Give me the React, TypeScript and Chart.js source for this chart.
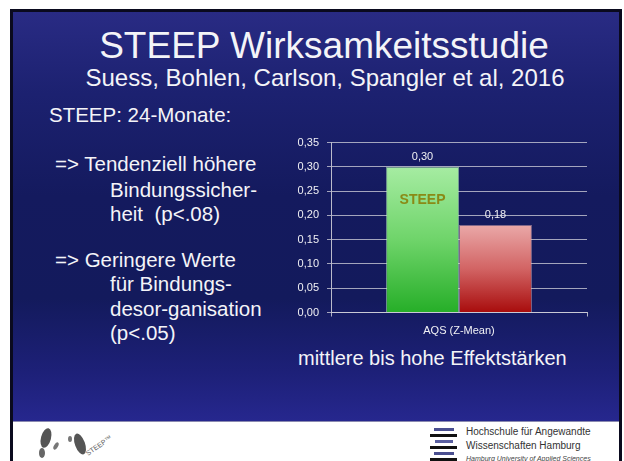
import React, { useEffect, useRef } from "react";
import { Chart, registerables } from "chart.js";

Chart.register(...registerables);

const categories = ["AQS (Z-Mean)"];
const seriesNames = ["STEEP", "Kontrollgruppe"];
const steepValues = [0.3];
const controlValues = [0.18];
const yTicks = [0, 0.05, 0.1, 0.15, 0.2, 0.25, 0.3, 0.35];
const barInsideLabel = "STEEP";

const fmt = (v: number) => v.toFixed(2).replace(".", ",");

function gradientFor(ctx: any, top: string, mid: string, bottom: string) {
  const chart = ctx.chart;
  const area = chart.chartArea;
  if (!area) return bottom;
  const v = ctx.raw as number;
  const y0 = chart.scales.y.getPixelForValue(v);
  const y1 = chart.scales.y.getPixelForValue(0);
  const g = chart.ctx.createLinearGradient(0, y0, 0, y1);
  g.addColorStop(0, top);
  g.addColorStop(0.5, mid);
  g.addColorStop(1, bottom);
  return g;
}

const labelPlugin = {
  id: "valueLabels",
  afterDatasetsDraw(chart: any) {
    const c = chart.ctx;
    c.save();
    chart.data.datasets.forEach((ds: any, di: number) => {
      const meta = chart.getDatasetMeta(di);
      meta.data.forEach((bar: any, i: number) => {
        const v = ds.data[i] as number;
        c.font = "11px Arial, 'Liberation Sans', sans-serif";
        c.fillStyle = "#f0f0f4";
        c.textAlign = "center";
        c.textBaseline = "middle";
        c.fillText(fmt(v), bar.x, bar.y - 10);
        if (di === 0) {
          c.font = "bold 14px Arial, 'Liberation Sans', sans-serif";
          c.fillStyle = "#8a8a16";
          c.fillText(barInsideLabel, bar.x, bar.y + 33);
        }
      });
    });
    c.restore();
  },
};

function BarChart() {
  const ref = useRef<HTMLCanvasElement | null>(null);
  useEffect(() => {
    if (!ref.current) return;
    const chart = new Chart(ref.current, {
      type: "bar",
      data: {
        labels: categories,
        datasets: [
          {
            label: seriesNames[0],
            data: steepValues,
            backgroundColor: (ctx: any) => gradientFor(ctx, "#a6eca2", "#6fd46a", "#26ae28"),
            borderColor: "rgba(180,240,180,0.6)",
            borderWidth: 1,
          },
          {
            label: seriesNames[1],
            data: controlValues,
            backgroundColor: (ctx: any) => gradientFor(ctx, "#eaa8a8", "#d26464", "#a80c0c"),
            borderColor: "rgba(240,180,180,0.5)",
            borderWidth: 1,
          },
        ],
      },
      options: {
        animation: false,
        responsive: false,
        maintainAspectRatio: false,
        layout: { padding: { top: 12, right: 13, left: 0, bottom: 0 } },
        datasets: { bar: { categoryPercentage: 0.57, barPercentage: 1.0 } },
        plugins: {
          legend: { display: false },
          tooltip: { enabled: false },
        },
        scales: {
          x: {
            grid: {
              display: true,
              drawOnChartArea: false,
              tickLength: 4,
              color: "rgba(205,205,215,0.85)",
            },
            border: { display: true, color: "rgba(205,205,215,0.9)" },
            ticks: {
              color: "#f0f0f4",
              font: { size: 11, family: "Arial, 'Liberation Sans', sans-serif" },
              padding: 8,
            },
            afterFit: (s: any) => {
              s.height = 35.5;
            },
          },
          y: {
            min: 0,
            max: 0.35,
            afterBuildTicks: (s: any) => {
              s.ticks = yTicks.map((v) => ({ value: v }));
            },
            grid: {
              color: "rgba(200,200,212,0.8)",
              tickLength: 4,
            },
            border: { display: true, color: "rgba(205,205,215,0.9)" },
            ticks: {
              color: "#f0f0f4",
              font: { size: 11, family: "Arial, 'Liberation Sans', sans-serif" },
              padding: 8,
              callback: (v: any) => fmt(Number(v)),
            },
            afterFit: (s: any) => {
              s.width = 51;
            },
          },
        },
      },
      plugins: [labelPlugin],
    } as any);
    return () => chart.destroy();
  }, []);
  return <canvas ref={ref} width={320} height={220} style={{ position: "absolute", left: 280, top: 128, width: 320, height: 220 }} />;
}

const font = "Arial, 'Liberation Sans', sans-serif";

export default function App() {
  const text = (content: string, style: React.CSSProperties) => (
    <div style={{ position: "absolute", whiteSpace: "pre", color: "#f4f4f8", fontFamily: font, lineHeight: 1, ...style }}>{content}</div>
  );
  return (
    <div style={{ position: "absolute", left: 0, top: 0, width: 624, height: 461, background: "#ffffff", overflow: "hidden" }}>
      <div style={{ position: "absolute", left: 10, top: 9, width: 606, height: 460, border: "3px solid #0a0a1e", borderBottom: "none", background: "#ffffff" }} />
      <div
        style={{
          position: "absolute",
          left: 13,
          top: 12,
          width: 606,
          height: 409,
          background: "linear-gradient(180deg, #292b84 0%, #1c2170 20%, #141a5e 45%, #131a5c 70%, #1d2078 88%, #26278e 100%)",
        }}
      />
      <div style={{ position: "absolute", left: 13, top: 421, width: 606, height: 1, background: "#8a8ab0" }} />
      {text("STEEP Wirksamkeitsstudie", { left: 0, width: 648, textAlign: "center", top: 27, fontSize: 37 })}
      {text("Suess, Bohlen, Carlson, Spangler et al, 2016", { left: 0, width: 650, textAlign: "center", top: 66, fontSize: 24 })}
      {text("STEEP: 24-Monate:", { left: 49, top: 105, fontSize: 20.5 })}
      {text("=> Tendenziell höhere", { left: 55, top: 154, fontSize: 20.5 })}
      {text("Bindungssicher-", { left: 110, top: 180, fontSize: 20.5 })}
      {text("heit  (p<.08)", { left: 110, top: 204, fontSize: 20.5 })}
      {text("=> Geringere Werte", { left: 55, top: 250, fontSize: 20.5 })}
      {text("für Bindungs-", { left: 110, top: 274, fontSize: 20.5 })}
      {text("desor-ganisation", { left: 110, top: 299, fontSize: 20.5 })}
      {text("(p<.05)", { left: 110, top: 323, fontSize: 20.5 })}
      {text("mittlere bis hohe Effektstärken", { left: 298, top: 348, fontSize: 20 })}
      <BarChart />
      {/* footer logos */}
      <svg style={{ position: "absolute", left: 30, top: 422, width: 100, height: 39 }} width={100} height={39}>
        <ellipse cx={16} cy={16} rx={5} ry={10} fill="#555" transform="rotate(15 16 16)" />
        <ellipse cx={12} cy={31} rx={3} ry={5} fill="#666" />
        <ellipse cx={26} cy={24} rx={2} ry={4} fill="#777" transform="rotate(30 26 24)" />
        <ellipse cx={50} cy={22} rx={5} ry={11} fill="#555" transform="rotate(-20 50 22)" />
        <ellipse cx={40} cy={17} rx={2} ry={3} fill="#777" />
        <text x={58} y={34} fontSize={7} fill="#666" fontFamily={font} transform="rotate(-35 58 34)">STEEP™</text>
      </svg>
      <div style={{ position: "absolute", left: 430, top: 425, width: 30, height: 36 }}>
        {[
          [4, 20, "#4a4f90"],
          [0, 27, "#111"],
          [5, 18, "#5a5fa0"],
          [0, 27, "#111"],
          [4, 20, "#4a4f90"],
          [0, 27, "#111"],
        ].map((b: any, i: number) => (
          <div key={i} style={{ position: "absolute", left: b[0], top: 3 + i * 6, width: b[1], height: 3, background: b[2] }} />
        ))}
      </div>
      {text("Hochschule für Angewandte", { left: 466, top: 427, fontSize: 10, color: "#333" })}
      {text("Wissenschaften Hamburg", { left: 466, top: 441, fontSize: 10, color: "#333" })}
      {text("Hamburg University of Applied Sciences", { left: 466, top: 455, fontSize: 7, color: "#444", fontStyle: "italic" })}
    </div>
  );
}
